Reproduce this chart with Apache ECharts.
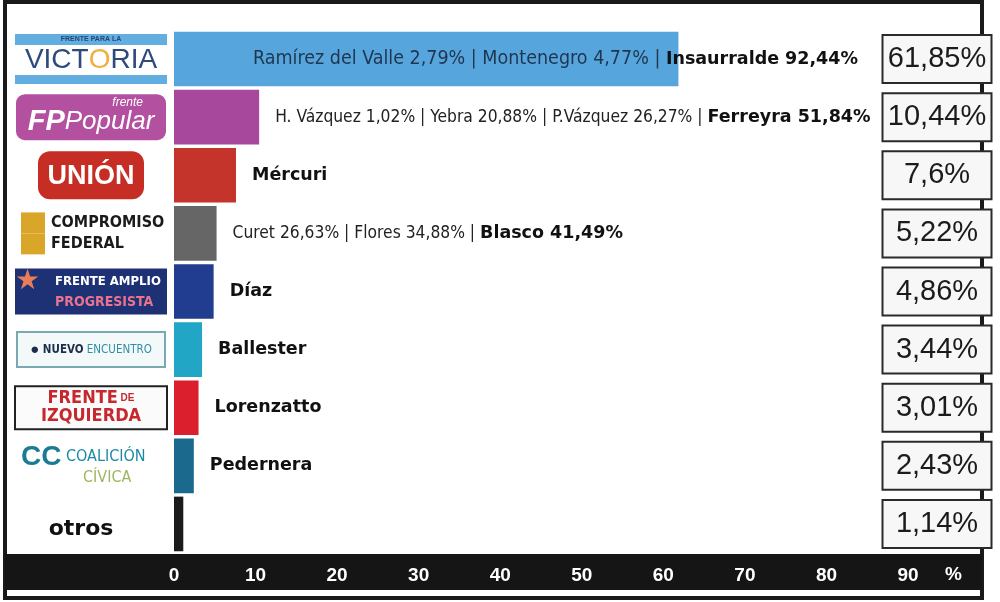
<!DOCTYPE html>
<html>
<head>
<meta charset="utf-8">
<title>Resultados por frente</title>
<script src="https://cdn.jsdelivr.net/npm/echarts@6/dist/echarts.min.js"></script>
<style>
html, body { margin: 0; padding: 0; background: #fff; }
#chart { width: 1000px; height: 602px; }
</style>
</head>
<body>
<div id="chart"></div>
<script>
/* frentes, de arriba hacia abajo */
var partidos = ['FRENTE PARA LA VICTORIA', 'Frente Popular', 'UNIÓN', 'COMPROMISO FEDERAL',
    'FRENTE AMPLIO PROGRESISTA', 'NUEVO ENCUENTRO', 'FRENTE DE IZQUIERDA', 'COALICIÓN CÍVICA', 'otros'];

/* porcentaje total de cada frente */
var totales = [61.85, 10.44, 7.6, 5.22, 4.86, 3.44, 3.01, 2.43, 1.14];

/* candidatos de la interna (sin el ganador) */
var internas = ['Ramírez del Valle 2,79% | Montenegro 4,77% | ',
    'H. Vázquez 1,02% | Yebra 20,88% | P.Vázquez 26,27% | ',
    '', 'Curet 26,63% | Flores 34,88% | ', '', '', '', '', ''];

/* ganador de cada interna */
var ganadores = ['Insaurralde 92,44%', 'Ferreyra 51,84%', 'Mércuri', 'Blasco 41,49%',
    'Díaz', 'Ballester', 'Lorenzatto', 'Pedernera', ''];

/* eje x */
var ejeMin = 0;
var ejeMax = 90;
var ejeIntervalo = 10;

var colores = ['#56a6dd', '#a8489c', '#c4342a', '#666666', '#203d8f', '#22a6c5', '#dc1f2c', '#1b6a8e', '#1b1b1b'];

/* "logos" de cada frente, como texto enriquecido */
var logos = [
    '{t|FRENTE PARA LA}\n{v|VICT}{o|O}{v|RIA}\n{s| }',
    '{fr|frente}\n{fp|FP}{pop|Popular}',
    '{u|UNIÓN}',
    '{e| }{c|COMPROMISO}\n{e| }{c|FEDERAL}',
    '{st|★}{fa|FRENTE AMPLIO}\n{sp| }{pg|PROGRESISTA}',
    '{ic|●}{nv| NUEVO}{en| ENCUENTRO}',
    '{fi|FRENTE}{de| DE}\n{fi|IZQUIERDA}',
    '{cc|CC}{co| COALICIÓN}\n{sp| }{cv|CÍVICA}',
    '{ot|otros}'
];

var logoEstilos = [
    {
        align: 'center', backgroundColor: '#fff',
        rich: {
            t: { width: 152, height: 11, backgroundColor: '#62aee0', color: '#24457a', fontSize: 7, fontWeight: 'bold', align: 'center' },
            v: { fontSize: 28, color: '#2c4a7c', fontFamily: 'Liberation Sans', height: 30, align: 'center' },
            o: { fontSize: 28, color: '#f2ae3a', fontFamily: 'Liberation Sans', height: 30, align: 'center' },
            s: { width: 152, height: 9, backgroundColor: '#62aee0', fontSize: 1, align: 'center' }
        }
    },
    {
        align: 'center', backgroundColor: '#b3509f', borderRadius: 9, width: 140, padding: [2, 5, 4, 5],
        rich: {
            fr: { fontSize: 12, fontStyle: 'italic', color: '#fff', align: 'right', height: 12, padding: [0, 18, 0, 0] },
            fp: { fontSize: 29, fontWeight: 'bold', fontStyle: 'italic', color: '#fff', fontFamily: 'Liberation Sans', height: 28, align: 'center' },
            pop: { fontSize: 26, fontStyle: 'italic', color: '#fff', fontFamily: 'Liberation Sans', height: 28, align: 'center' }
        }
    },
    {
        align: 'center', backgroundColor: '#c62d25', borderRadius: 12, width: 106, padding: [10, 0, 8, 0],
        rich: {
            u: { fontSize: 27, fontWeight: 'bold', color: '#fff', fontFamily: 'Liberation Sans', align: 'center', height: 30 }
        }
    },
    {
        align: 'center', width: 140,
        rich: {
            e: { width: 24, height: 21, backgroundColor: '#d9a62a', align: 'left' },
            c: { fontSize: 16, fontWeight: 'bold', color: '#1a1a1a', fontFamily: 'DejaVu Sans Condensed', height: 21, align: 'left', padding: [0, 0, 0, 6] }
        }
    },
    {
        align: 'center', backgroundColor: '#1f3175', width: 152, padding: [2, 0, 2, 0],
        rich: {
            st: { fontSize: 28, color: '#e87d5a', height: 22, width: 40, align: 'left' },
            sp: { width: 40, height: 20, align: 'left' },
            fa: { fontSize: 13, fontWeight: 'bold', color: '#fff', fontFamily: 'DejaVu Sans Condensed', align: 'left' },
            pg: { fontSize: 14, fontWeight: 'bold', color: '#e7738f', fontFamily: 'DejaVu Sans Condensed', align: 'left' }
        }
    },
    {
        align: 'center', backgroundColor: '#f3f8f8', borderColor: '#79aab2', borderWidth: 2, width: 146, padding: [9, 0, 9, 0],
        rich: {
            ic: { fontSize: 15, color: '#1d2c4a', align: 'center' },
            nv: { fontSize: 11.5, fontWeight: 'bold', color: '#1d2c4a', fontFamily: 'DejaVu Sans Condensed', align: 'center' },
            en: { fontSize: 11.5, color: '#2f8fa8', fontFamily: 'DejaVu Sans Condensed', align: 'center' }
        }
    },
    {
        align: 'center', backgroundColor: '#fbfbfb', borderColor: '#222', borderWidth: 2, width: 150, padding: [2, 0, 3, 0],
        rich: {
            fi: { fontSize: 18, fontWeight: 'bold', color: '#c7282e', fontFamily: 'DejaVu Sans Condensed', align: 'center', lineHeight: 18 },
            de: { fontSize: 10, fontWeight: 'bold', color: '#c7282e', align: 'center', lineHeight: 18 }
        }
    },
    {
        align: 'center', width: 140,
        rich: {
            cc: { fontSize: 28, fontWeight: 'bold', color: '#1a7c93', fontFamily: 'Liberation Sans', height: 24, align: 'left' },
            co: { fontSize: 16, color: '#1a8aa6', fontFamily: 'DejaVu Sans Condensed', align: 'left' },
            sp: { width: 62, height: 18, align: 'left' },
            cv: { fontSize: 16, color: '#9bb861', fontFamily: 'DejaVu Sans Condensed', align: 'left' }
        }
    },
    {
        align: 'center',
        rich: {
            ot: { fontSize: 22, fontWeight: 'bold', color: '#111', fontFamily: 'DejaVu Sans', padding: [10, 20, 0, 0] }
        }
    }
];

/**
 * @desc convierte 61.85 en "61,85%"
 */
function formatoPorcentaje(v) {
    return String(v).replace('.', ',') + '%';
}

/**
 * @desc arma el grafico de barras
 */
function doResultadosChart() {
    var chart = echarts.init(document.getElementById('chart'));

    var barras = [];
    for (var i = 0; i < totales.length; i++) {
        var item = { value: totales[i], itemStyle: { color: colores[i] } };
        if (i === 0) {
            // el texto del primero arranca dentro de la barra
            item.label = { position: 'insideLeft', offset: [63, 0] };
        }
        barras.push(item);
    }

    var categoriasIzq = [];
    for (var j = 0; j < partidos.length; j++) {
        categoriasIzq.push({ value: partidos[j], textStyle: logoEstilos[j] });
    }

    var option = {
        backgroundColor: '#fff',
        animation: false,
        grid: {
            left: 174,
            right: 92,
            top: 30,
            bottom: 49,
            containLabel: false,
            outerBoundsMode: 'none'
        },
        graphic: [
            {   // marco
                type: 'rect', z: -10, silent: true,
                shape: { x: 5, y: 2, width: 977, height: 596 },
                style: { fill: 'none', stroke: '#1a1a1a', lineWidth: 4 }
            },
            {   // franja negra del eje
                type: 'rect', z: -10, silent: true,
                shape: { x: 5, y: 554, width: 977, height: 36 },
                style: { fill: '#151515' }
            }
        ],
        xAxis: {
            type: 'value',
            min: ejeMin,
            max: ejeMax,
            interval: ejeIntervalo,
            z: 10,
            axisLine: { show: false },
            axisTick: { show: false },
            splitLine: { show: false },
            axisLabel: {
                margin: 13,
                color: '#fff',
                fontSize: 19,
                fontWeight: 'bold',
                fontFamily: 'Liberation Sans'
            },
            name: '%',
            nameLocation: 'end',
            nameGap: 37,
            nameTextStyle: {
                color: '#fff',
                fontSize: 19,
                fontWeight: 'bold',
                fontFamily: 'Liberation Sans',
                verticalAlign: 'top',
                padding: [12, 0, 0, 0]
            }
        },
        yAxis: [
            {
                type: 'category',
                inverse: true,
                data: categoriasIzq,
                axisLine: { show: false },
                axisTick: { show: false },
                axisLabel: {
                    interval: 0,
                    align: 'center',
                    margin: 83,
                    formatter: function (value, index) {
                        return logos[index];
                    }
                }
            },
            {
                type: 'category',
                inverse: true,
                position: 'right',
                data: partidos,
                z: 10,
                axisLine: { show: false },
                axisTick: { show: false },
                axisLabel: {
                    interval: 0,
                    align: 'center',
                    margin: 29,
                    fontFamily: 'Liberation Sans',
                    fontSize: 29,
                    color: '#1b1b1b',
                    backgroundColor: '#f7f7f7',
                    borderColor: '#2a2a2a',
                    borderWidth: 2,
                    width: 107,
                    height: 46,
                    formatter: function (value, index) {
                        return formatoPorcentaje(totales[index]);
                    }
                }
            }
        ],
        series: [
            {
                name: 'Total',
                type: 'bar',
                barCategoryGap: '6%',
                data: barras,
                label: {
                    show: true,
                    position: 'right',
                    distance: 16,
                    formatter: function (p) {
                        var i = p.dataIndex;
                        var s = '';
                        if (internas[i]) {
                            s += (i === 0 ? '{rv|' : '{r|') + internas[i] + '}';
                        }
                        if (ganadores[i]) {
                            s += '{b|' + ganadores[i] + '}';
                        }
                        return s;
                    },
                    rich: {
                        rv: { fontFamily: 'DejaVu Sans Condensed', fontSize: 19.5, color: '#1f3550' },
                        r: { fontFamily: 'DejaVu Sans Condensed', fontSize: 17.3, color: '#222' },
                        b: { fontFamily: 'DejaVu Sans', fontWeight: 'bold', fontSize: 17.5, color: '#111' }
                    }
                }
            }
        ]
    };

    chart.setOption(option, true);
}

doResultadosChart();
</script>
</body>
</html>
